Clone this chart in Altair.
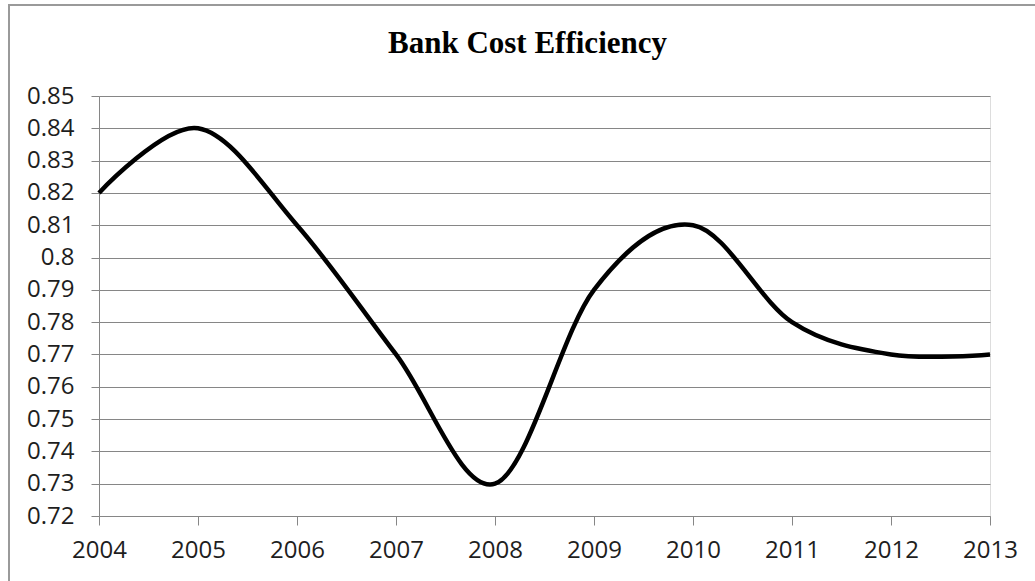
import altair as alt
import pandas as pd

years = [2004, 2005, 2006, 2007, 2008, 2009, 2010, 2011, 2012, 2013]
efficiency = [0.82, 0.84, 0.81, 0.77, 0.73, 0.79, 0.81, 0.78, 0.77, 0.77]
y_ticks = [round(0.72 + 0.01 * i, 2) for i in range(14)]
title_text = "Bank Cost Efficiency"

df = pd.DataFrame({"year": years, "eff": efficiency})

W, H = 891, 420
PAD = {"left": 99, "top": 96, "right": 45, "bottom": 65}

line = alt.Chart(df).mark_line(
    color="black", strokeWidth=4.5, interpolate="cardinal", tension=0, clip=False
).encode(
    x=alt.X("year:Q",
            scale=alt.Scale(domain=[2004, 2013], nice=False, zero=False),
            axis=alt.Axis(values=years, format="d", title=None, grid=False,
                          domainColor="#868686", tickColor="#868686",
                          tickSize=9, labelPadding=13, labelFont="Open Sans",
                          labelFontSize=24, labelColor="#1e1e1e",
                          labelFlush=False, labelOverlap=False)),
    y=alt.Y("eff:Q",
            scale=alt.Scale(domain=[0.72, 0.85], nice=False, zero=False),
            axis=alt.Axis(values=y_ticks, title=None, grid=True,
                          gridColor="#868686", gridWidth=1,
                          domainColor="#868686", tickColor="#868686",
                          tickSize=8, labelPadding=17, labelFont="Open Sans",
                          labelFontSize=24, labelColor="#1e1e1e",
                          labelFlush=False, labelOverlap=False,
                          labelExpr="format(datum.value, '.2~f')")),
)

one = pd.DataFrame({"k": [0]})

frame = alt.Chart(one).mark_rect(
    fill=None, stroke="#9a9a9a", strokeWidth=2, clip=False
).encode(
    x=alt.value(-90), x2=alt.value(W + 200),
    y=alt.value(-91), y2=alt.value(H + 200),
)

title = alt.Chart(one).mark_text(
    text=title_text, font="Liberation Serif", fontSize=31, fontWeight="bold",
    color="black", align="center", baseline="alphabetic", clip=False
).encode(
    x=alt.value(428.5), y=alt.value(-43),
)

chart = alt.layer(frame, line, title).properties(
    width=W, height=H,
    padding=PAD,
    autosize=alt.AutoSizeParams(type="none"),
).configure_view(stroke=None).configure(background="white")

chart.save("out.html", embed_options={"renderer": "svg", "actions": False})
